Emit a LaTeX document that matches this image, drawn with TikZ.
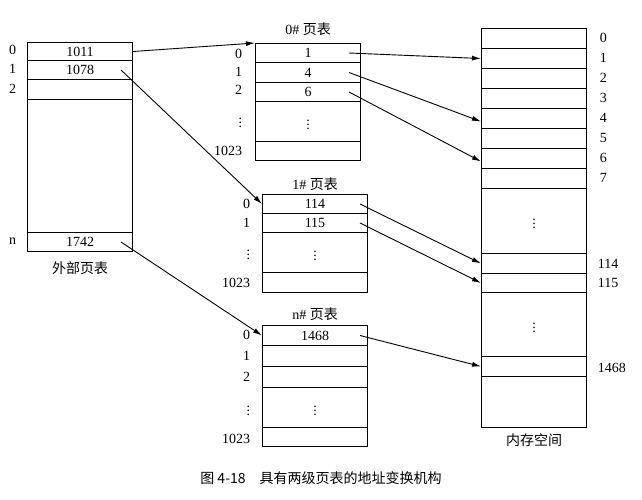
\documentclass[tikz,border=0pt]{standalone}
\usepackage{fontspec}
\setmainfont{Liberation Serif}
\newfontfamily\cjk{Noto Sans CJK SC}
\usetikzlibrary{positioning,arrows.meta}
\newcommand{\fs}{\fontsize{14}{16}\selectfont}
\tikzset{
  cell/.style={draw, minimum width=105pt, inner sep=0pt, anchor=north, font=\fs},
  idx/.style={font=\fs, anchor=east},
  link/.style={-{Latex[length=9pt,width=5pt]}, line width=0.9pt},
}
\begin{document}
\begin{tikzpicture}[x=1pt,y=-1pt,line width=1pt]
  \useasboundingbox (0,0) rectangle (642,500);
  % outer table
  \node[cell, minimum height=18pt] (o0) at (80,42) {1011};
  \node[cell, minimum height=19pt] (o1) at (80,60) {1078};
  \node[cell, minimum height=20pt] (o2) at (80,79) {};
  \node[cell, minimum height=133pt] (ob) at (80,99) {};
  \node[cell, minimum height=19pt] (on) at (80,232) {1742};
  \node[idx] at (20,50) {0};
  \node[idx] at (20,69) {1};
  \node[idx] at (20,89) {2};
  \node[idx] at (20,241) {n};
  \node[font=\cjk\fs] (olab) at (80,268) {外部页表};
  % 0# table
  \node[font=\fs] (t0) at (308,29) {0\# {\cjk 页表}};
  \node[cell, minimum height=19pt] (a0) at (308,43) {1};
  \node[cell, minimum height=20pt] (a1) at (308,62) {4};
  \node[cell, minimum height=19pt] (a2) at (308,82) {6};
  \node[cell, minimum height=40pt] (ad) at (308,101) {$\vdots$};
  \node[cell, minimum height=19pt] (ae) at (308,141) {};
  \node[idx] at (246,54) {0};
  \node[idx] at (246,72) {1};
  \node[idx] at (246,90) {2};
  \node[idx] at (246,120) {$\vdots$};
  \node[idx] at (246,151) {1023};
  % 1# table
  \node[font=\fs] (t1) at (315,184) {1\# {\cjk 页表}};
  \node[cell, minimum height=19pt] (b0) at (315,194) {114};
  \node[cell, minimum height=19pt] (b1) at (315,213) {115};
  \node[cell, minimum height=40pt] (bd) at (315,232) {$\vdots$};
  \node[cell, minimum height=20pt] (be) at (315,272) {};
  \node[idx] at (254,204) {0};
  \node[idx] at (254,223) {1};
  \node[idx] at (254,252) {$\vdots$};
  \node[idx] at (254,283) {1023};
  % n# table
  \node[font=\fs] (tn) at (315,314) {n\# {\cjk 页表}};
  \node[cell, minimum height=20pt] (c0) at (315,325) {1468};
  \node[cell, minimum height=21pt] (c1) at (315,345) {};
  \node[cell, minimum height=21pt] (c2) at (315,366) {};
  \node[cell, minimum height=40pt] (cd) at (315,387) {$\vdots$};
  \node[cell, minimum height=19pt] (ce) at (315,427) {};
  \node[idx] at (254,335) {0};
  \node[idx] at (254,356) {1};
  \node[idx] at (254,377) {2};
  \node[idx] at (254,408) {$\vdots$};
  \node[idx] at (254,439) {1023};
  % memory
  \foreach \i in {0,...,7} {
    \node[cell, minimum height=20pt] (m\i) at (534,28+20*\i) {};
    \node[font=\fs, anchor=west] at (596,38+20*\i) {\i};
  }
  \node[cell, minimum height=65pt] (md1) at (534,188) {$\vdots$};
  \node[cell, minimum height=20pt] (m114) at (534,253) {};
  \node[cell, minimum height=19pt] (m115) at (534,273) {};
  \node[cell, minimum height=64pt] (md2) at (534,292) {$\vdots$};
  \node[cell, minimum height=20pt] (m1468) at (534,356) {};
  \node[cell, minimum height=51pt] (mend) at (534,376) {};
  \node[font=\fs, anchor=west] at (594,264) {114};
  \node[font=\fs, anchor=west] at (594,283) {115};
  \node[font=\fs, anchor=west] at (594,368) {1468};
  \node[font=\cjk\fs] (mlab) at (534,440) {内存空间};
  % caption
  \node[font=\cjk\fs] (cap) at (321,478) {图 4-18\quad 具有两级页表的地址变换机构};
  % connectors
  \draw[link] (o0.east) -- (a0.north west);
  \draw[link] ([xshift=-12pt]o1.east) -- (b0.west);
  \draw[link] ([xshift=-12pt]on.east) -- (c0.west);
  \draw[link] ([xshift=-12pt]a0.east) -- (m1.west);
  \draw[link] ([xshift=-12pt]a1.east) -- ([yshift=-3pt]m4.west);
  \draw[link] ([xshift=-12pt]a2.east) -- ([yshift=-3pt]m6.west);
  \draw[link] ([xshift=-8pt]b0.east) -- (m114.west);
  \draw[link] ([xshift=-8pt]b1.east) -- (m115.west);
  \draw[link] ([xshift=-8pt]c0.east) -- (m1468.west);
\end{tikzpicture}
\end{document}
